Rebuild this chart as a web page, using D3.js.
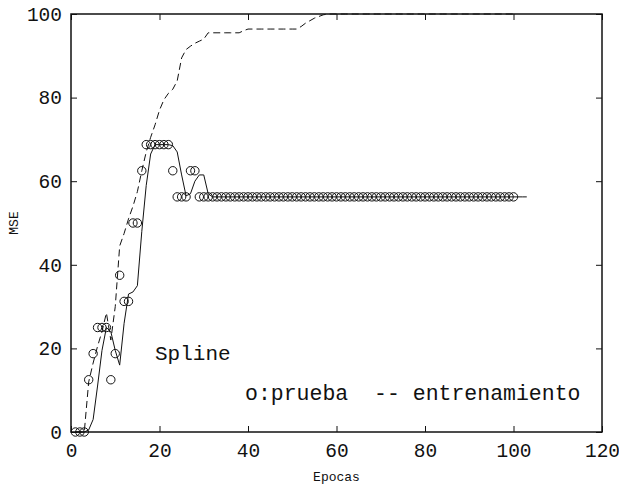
<!DOCTYPE html>
<html>
<head>
  <meta charset="UTF-8">
  <style>
    body { margin: 0; background: #fff; }
    svg { display: block; }
    .tick text { font-family: "Liberation Mono", "Courier New", monospace; font-size: 19.5px; fill: #111; }
    .lbl { font-family: "Liberation Mono", "Courier New", monospace; fill: #111; white-space: pre; }
  </style>
</head>
<body>
<svg></svg>
<script src="https://d3js.org/d3.v7.min.js"></script>
<script>

// prueba (circles), epochs 1..100
let prueba = [0, 0, 0, 12.5, 18.75, 25, 25, 25, 12.5, 18.75,
  37.5, 31.25, 31.25, 50, 50, 62.5, 68.75, 68.75, 68.75, 68.75,
  68.75, 68.75, 62.5, 56.25, 56.25, 56.25, 62.5, 62.5, 56.25, 56.25,
  56.25, 56.25, 56.25, 56.25, 56.25, 56.25, 56.25, 56.25, 56.25, 56.25,
  56.25, 56.25, 56.25, 56.25, 56.25, 56.25, 56.25, 56.25, 56.25, 56.25,
  56.25, 56.25, 56.25, 56.25, 56.25, 56.25, 56.25, 56.25, 56.25, 56.25,
  56.25, 56.25, 56.25, 56.25, 56.25, 56.25, 56.25, 56.25, 56.25, 56.25,
  56.25, 56.25, 56.25, 56.25, 56.25, 56.25, 56.25, 56.25, 56.25, 56.25,
  56.25, 56.25, 56.25, 56.25, 56.25, 56.25, 56.25, 56.25, 56.25, 56.25,
  56.25, 56.25, 56.25, 56.25, 56.25, 56.25, 56.25, 56.25, 56.25, 56.25];

// spline curve (solid), epochs 1..103
let spline = [0, 0, 0, 0.5, 3, 11, 19.5, 25, 24, 19.5,
  16, 26, 33, 33.5, 35, 48, 59, 66.5, 68.75, 68.75,
  68.75, 68.75, 68.5, 67, 61.5, 56.5, 57, 60, 61.5, 61.5,
  57, 56.25, 56.25, 56.25, 56.25, 56.25, 56.25, 56.25, 56.25, 56.25,
  56.25, 56.25, 56.25, 56.25, 56.25, 56.25, 56.25, 56.25, 56.25, 56.25,
  56.25, 56.25, 56.25, 56.25, 56.25, 56.25, 56.25, 56.25, 56.25, 56.25,
  56.25, 56.25, 56.25, 56.25, 56.25, 56.25, 56.25, 56.25, 56.25, 56.25,
  56.25, 56.25, 56.25, 56.25, 56.25, 56.25, 56.25, 56.25, 56.25, 56.25,
  56.25, 56.25, 56.25, 56.25, 56.25, 56.25, 56.25, 56.25, 56.25, 56.25,
  56.25, 56.25, 56.25, 56.25, 56.25, 56.25, 56.25, 56.25, 56.25, 56.25,
  56.25, 56.25, 56.25];

// entrenamiento (dashed), epochs 1..100
let entrenamiento = [0, 0, 0, 12, 16.5, 20.5, 24, 28.5, 22, 30,
  44.5, 47.5, 51, 54, 57.5, 62.5, 67, 70.5, 73.5, 77,
  79.5, 81, 82, 84, 89.5, 91.5, 92.3, 93, 93.5, 94,
  95.5, 95.5, 95.5, 95.5, 95.5, 95.5, 95.5, 95.5, 96, 96.4,
  96.4, 96.4, 96.4, 96.4, 96.4, 96.4, 96.4, 96.4, 96.4, 96.4,
  96.4, 97, 97.8, 98.4, 99, 99.4, 99.8, 100, 100, 100,
  100, 100, 100, 100, 100, 100, 100, 100, 100, 100,
  100, 100, 100, 100, 100, 100, 100, 100, 100, 100,
  100, 100, 100, 100, 100, 100, 100, 100, 100, 100,
  100, 100, 100, 100, 100, 100, 100, 100, 100, 100];

let xTicks = [0, 20, 40, 60, 80, 100, 120];
let yTicks = [0, 20, 40, 60, 80, 100];

let width = 619, height = 487;
let mLeft = 71, mRight = 602, mTop = 14, mBottom = 432;

let svg = d3.select("svg").attr("width", width).attr("height", height);

let x = d3.scaleLinear().domain([0, 120]).range([mLeft, mRight]);
let y = d3.scaleLinear().domain([0, 100]).range([mBottom, mTop]);

// axes, ticks pointing in
svg.append("g")
    .attr("transform", "translate(0," + mBottom + ")")
    .call(d3.axisBottom(x).tickValues(xTicks).tickSizeInner(-6).tickSizeOuter(0).tickPadding(11))
    .call(g => g.select(".domain").remove());

svg.append("g")
    .attr("transform", "translate(" + mLeft + ",0)")
    .call(d3.axisLeft(y).tickValues(yTicks).tickSizeInner(-6).tickSizeOuter(0).tickPadding(9))
    .call(g => g.select(".domain").remove());

svg.append("g")
    .attr("transform", "translate(0," + mTop + ")")
    .call(d3.axisTop(x).tickValues(xTicks).tickSizeInner(-6).tickSizeOuter(0).tickFormat(""))
    .call(g => g.select(".domain").remove());

svg.append("g")
    .attr("transform", "translate(" + mRight + ",0)")
    .call(d3.axisRight(y).tickValues(yTicks).tickSizeInner(-6).tickSizeOuter(0).tickFormat(""))
    .call(g => g.select(".domain").remove());

svg.selectAll(".tick line").attr("stroke", "#111");

// lines
let line = d3.line()
    .x((d, i) => x(i + 1))
    .y(d => y(d));

svg.append("path")
    .datum(entrenamiento)
    .attr("d", line)
    .attr("fill", "none")
    .attr("stroke", "#111")
    .attr("stroke-width", 1)
    .attr("stroke-dasharray", "7,4");

svg.append("path")
    .datum(spline)
    .attr("d", line)
    .attr("fill", "none")
    .attr("stroke", "#111")
    .attr("stroke-width", 1);

svg.append("g")
    .selectAll("circle")
    .data(prueba)
    .enter()
    .append("circle")
    .attr("cx", (d, i) => x(i + 1))
    .attr("cy", d => y(d))
    .attr("r", 4.2)
    .attr("fill", "none")
    .attr("stroke", "#111")
    .attr("stroke-width", 1);

// frame
svg.append("rect")
    .attr("x", mLeft).attr("y", mTop)
    .attr("width", mRight - mLeft).attr("height", mBottom - mTop)
    .attr("fill", "none")
    .attr("stroke", "#111")
    .attr("stroke-width", 1.5);

// texts
svg.append("text").attr("class", "lbl")
    .attr("x", 155).attr("y", 360)
    .style("font-size", "21px")
    .text("Spline");

svg.append("text").attr("class", "lbl")
    .attr("x", 245).attr("y", 400)
    .style("font-size", "21.5px")
    .text("o:prueba  -- entrenamiento");

svg.append("text").attr("class", "lbl")
    .attr("x", (mLeft + mRight) / 2).attr("y", 481)
    .attr("text-anchor", "middle")
    .style("font-size", "13px")
    .text("Epocas");

svg.append("text").attr("class", "lbl")
    .attr("transform", "translate(18," + ((mTop + mBottom) / 2) + ") rotate(-90)")
    .attr("text-anchor", "middle")
    .style("font-size", "13px")
    .text("MSE");

</script>
</body>
</html>
